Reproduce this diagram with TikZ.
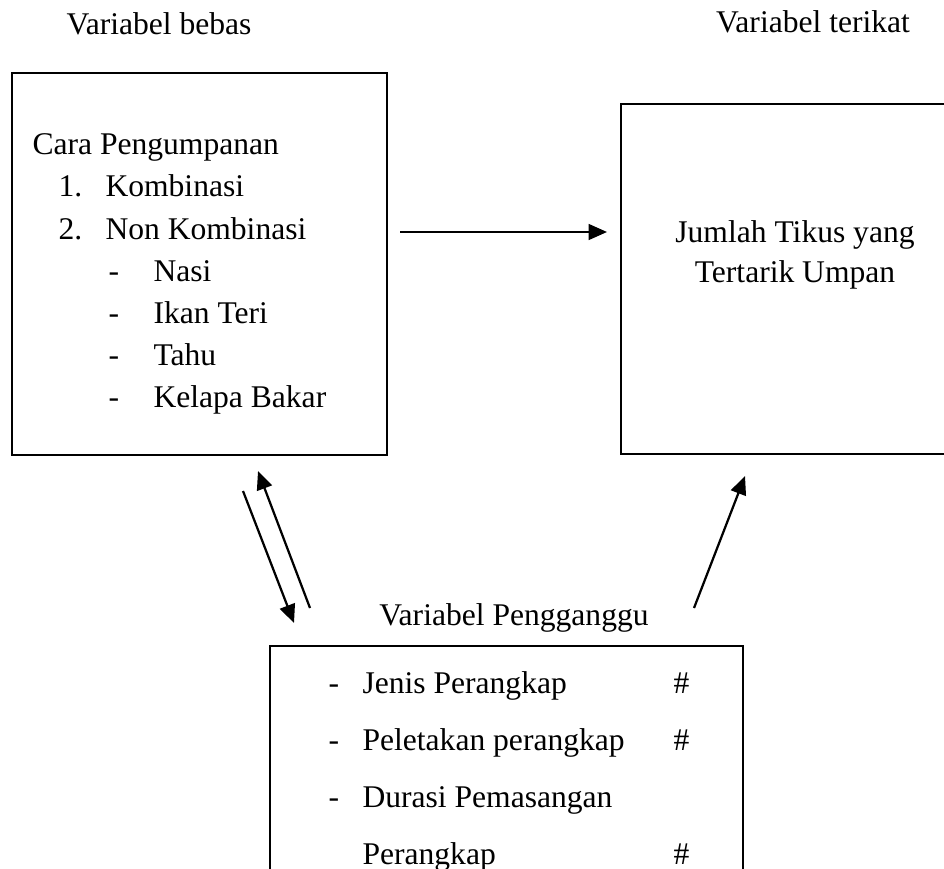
\documentclass[tikz,border=0pt]{standalone}
\usepackage{fontspec}
\setmainfont{Liberation Serif}
\usepackage{tikz}
\usetikzlibrary{arrows.meta, positioning, fit}

\begin{document}
\begin{tikzpicture}[
		x=0.38pt, y=-0.38pt,
		font=\fontsize{12}{14}\selectfont,
		box/.style={
			draw,
			line width=0.75pt,
			inner sep=0pt
		},
		txt/.style={
			anchor=base west,
			inner sep=0pt
		},
		judul/.style={
			anchor=base,
			inner sep=0pt
		},
		arrow/.style={
			-{Triangle[length=7pt,width=6pt]},
			line width=0.85pt
		}
		]
		
		\clip (0,0) rectangle (944,868);
		
		% Judul variabel
		\node[judul] (jbebas) at (159,35) {Variabel bebas};
		\node[judul] (jterikat) at (813,33) {Variabel terikat};
		\node[judul] (jganggu) at (514,625) {Variabel Pengganggu};
		
		% Kotak variabel
		\node[box, fit={(12,73) (387,455)}] (bebas) {};
		\node[box, fit={(621,104) (960,454)}] (terikat) {};
		\node[box, fit={(270,646) (743,890)}] (ganggu) {};
		
		% Isi variabel bebas
		\node[txt] (cara) at (32,155) {Cara Pengumpanan};
		\node[txt] (n1) at (58,197) {1.};
		\node[txt] (kombinasi) at (105,197) {Kombinasi};
		\node[txt] (n2) at (58,239) {2.};
		\node[txt] (nonkombinasi) at (105,239) {Non Kombinasi};
		\node[txt] (d1) at (108,281) {-};
		\node[txt] (nasi) at (153,281) {Nasi};
		\node[txt] (d2) at (108,323) {-};
		\node[txt] (ikan) at (153,323) {Ikan Teri};
		\node[txt] (d3) at (108,365) {-};
		\node[txt] (tahu) at (153,365) {Tahu};
		\node[txt] (d4) at (108,407) {-};
		\node[txt] (kelapa) at (153,407) {Kelapa Bakar};
		
		% Isi variabel terikat
		\node[judul] (jumlah) at (795,242) {Jumlah Tikus yang};
		\node[judul] (tertarik) at (795,282) {Tertarik Umpan};
		
		% Isi variabel pengganggu
		\node[txt] (g1) at (328,693) {-};
		\node[txt] (jenis) at (362,693) {Jenis Perangkap};
		\node[txt] (h1) at (673,693) {\#};
		\node[txt] (g2) at (328,750) {-};
		\node[txt] (peletakan) at (362,750) {Peletakan perangkap};
		\node[txt] (h2) at (673,750) {\#};
		\node[txt] (g3) at (328,807) {-};
		\node[txt] (durasi) at (362,807) {Durasi Pemasangan};
		\node[txt] (perangkap) at (362,864) {Perangkap};
		\node[txt] (h3) at (673,864) {\#};
		
		% Ujung panah
		\coordinate (p1) at (400,232);
		\coordinate (p2) at (607,232);
		\coordinate (q1) at (243,491);
		\coordinate (q2) at (294,623);
		\coordinate (r1) at (310,608);
		\coordinate (r2) at (258,471);
		\coordinate (s1) at (694,608);
		\coordinate (s2) at (745,476);
		
		% Panah
		\draw[arrow] (p1) -- (p2);
		\draw[arrow] (q1) -- (q2);
		\draw[arrow] (r1) -- (r2);
		\draw[arrow] (s1) -- (s2);
		
	\end{tikzpicture}
\end{document}
